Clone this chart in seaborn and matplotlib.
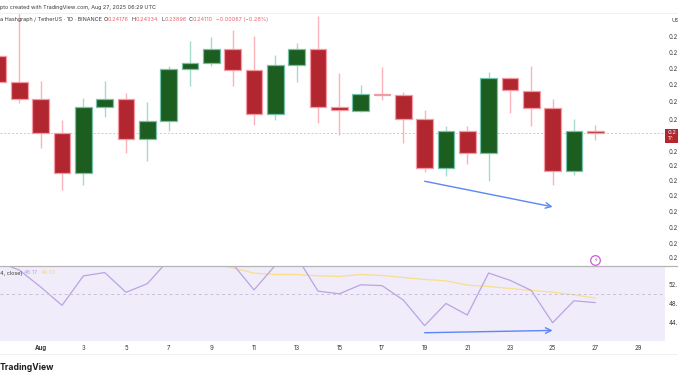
"""Hedera / USDT daily candles with RSI pane, TradingView style."""

import matplotlib.pyplot as plt
import pandas as pd
import seaborn as sns

W, H = 678, 381

# day of month: 0 is Jul 31, -1 is Jul 30
days = list(range(-1, 28))
opens = [0.26311, 0.25559, 0.25096, 0.24110, 0.22966, 0.24853, 0.25082, 0.23929, 0.24458, 0.25949,
         0.26130, 0.26521, 0.25902, 0.24663, 0.26054, 0.26521, 0.24863, 0.24749, 0.25225, 0.25206,
         0.24501, 0.23119, 0.24177, 0.23538, 0.25673, 0.25320, 0.24815, 0.23033, 0.24176]
closes = [0.25568, 0.25096, 0.24110, 0.22966, 0.24853, 0.25082, 0.23929, 0.24458, 0.25949, 0.26130,
          0.26521, 0.25902, 0.24663, 0.26054, 0.26521, 0.24863, 0.24758, 0.25215, 0.25196, 0.24510,
          0.23119, 0.24177, 0.23538, 0.25673, 0.25330, 0.24815, 0.23033, 0.24177, 0.24110]
highs = [0.26840, 0.27541, 0.25606, 0.24491, 0.25120, 0.25606, 0.25263, 0.24987, 0.26045, 0.26740,
         0.26874, 0.27064, 0.26883, 0.26359, 0.26683, 0.27455, 0.25825, 0.25492, 0.25997, 0.25273,
         0.24758, 0.24301, 0.24320, 0.25873, 0.25702, 0.26045, 0.25096, 0.24510, 0.24334]
lows = [0.25300, 0.24977, 0.23681, 0.22471, 0.22614, 0.24558, 0.23538, 0.23309, 0.24167, 0.25463,
        0.26026, 0.25454, 0.24339, 0.24472, 0.25578, 0.24396, 0.24043, 0.24710, 0.25044, 0.23834,
        0.23005, 0.22871, 0.23214, 0.22747, 0.24691, 0.24301, 0.22614, 0.22919, 0.23896]

rsi = [56.6, 54.9, 51.4, 47.6, 53.7, 54.4, 50.3, 52.1, 57.0, 62.0, 60.0, 56.2, 50.8, 55.9, 57.7,
       50.55, 50.0, 51.86, 51.7, 48.7, 43.4, 48.0, 45.6, 54.3, 52.8, 50.7, 44.0, 48.55, 48.17]
ma_days = list(range(9, 28))
rsi_ma = [56.28, 55.38, 54.28, 54.0, 54.0, 53.72, 53.59, 54.0, 53.79, 53.38, 52.97, 52.69, 51.79,
          51.52, 51.1, 50.69, 50.34, 49.79, 49.1]

price_ticks = [0.26883, 0.26426, 0.25968, 0.25492, 0.25006, 0.24501, 0.23586, 0.23167, 0.22738,
               0.22309, 0.21870, 0.21413, 0.20956, 0.20546]
rsi_ticks = [52, 48, 44]
rsi_tick_labels = ["52.", "48.", "44."]
day_ticks = [1, 3, 5, 7, 9, 11, 13, 15, 17, 19, 21, 23, 25, 27, 29]
day_labels = ["Aug", "3", "5", "7", "9", "11", "13", "15", "17", "19", "21", "23", "25", "27", "29"]

last_close = 0.24110
arrow_days = [19, 25]
price_arrow = [0.22728, 0.21994]
rsi_arrow = [41.93, 42.41]

RED, RED_EDGE, RED_WICK = "#B2272F", "#F59AA4", "#FBB4BC"
GREEN, GREEN_EDGE, GREEN_WICK = "#1B5E20", "#74C2AC", "#A6DCCD"
BLUE = "#5B86F8"
GREY = "#3A3A3A"
SMALL = 3.95


def pane(fig, left, top, right, bottom):
    return fig.add_axes([left / W, 1 - bottom / H, (right - left) / W, (bottom - top) / H])


def px_text(fig, x, y, s, **kw):
    kw.setdefault("va", "center")
    kw.setdefault("color", GREY)
    kw.setdefault("fontsize", SMALL)
    fig.text(x / W, 1 - y / H, s, **kw)


sns.set_theme(style="white")
plt.rcParams["font.family"] = ["Inter", "DejaVu Sans"]

fig = plt.figure(figsize=(W / 100, H / 100), dpi=100)
ax = pane(fig, 0, 13, 665, 265)
ax2 = pane(fig, 0, 265.5, 665, 340.7)

xlim = (-0.908, 30.27)

# candles
for d, o, c, hi, lo in zip(days, opens, closes, highs, lows):
    up = c >= o
    ax.vlines(d, lo, hi, color=GREEN_WICK if up else RED_WICK, lw=1, zorder=2)
    ax.bar(d, abs(c - o), bottom=min(o, c), width=0.78, color=GREEN if up else RED,
           edgecolor=GREEN_EDGE if up else RED_EDGE, lw=0.9, zorder=3)
ax.axhline(last_close, color="#F7B5BB", lw=0.7, ls=(0, (2, 2)), zorder=1)
ax.annotate("", xy=(arrow_days[1], price_arrow[1]), xytext=(arrow_days[0], price_arrow[0]),
            arrowprops=dict(arrowstyle="->", color=BLUE, lw=1, mutation_scale=10, shrinkA=0, shrinkB=0))
ax.scatter([27], [0.2047], s=48, facecolor="white", edgecolor="#C65FD3", lw=0.9, zorder=4, clip_on=False)
ax.text(27, 0.2047, "\u26a1", color="#C65FD3", fontsize=4.5, ha="center", va="center", zorder=5,
        family="DejaVu Sans")

ax.set_xlim(*xlim)
ax.set_ylim(0.20327, 0.27550)
ax.set_xticks([])
ax.yaxis.tick_right()
ax.set_yticks(price_ticks, ["0.2"] * len(price_ticks))
ax.tick_params(axis="y", length=0, pad=2.5, labelsize=4.4, labelcolor=GREY)
for side in ax.spines:
    ax.spines[side].set_visible(False)
ax.patch.set_alpha(0)

# rsi pane
rsi_df = pd.DataFrame({"day": days, "rsi": rsi})
ma_df = pd.DataFrame({"day": ma_days, "ma": rsi_ma})
ax2.set_facecolor("#F0ECF9")
sns.lineplot(data=ma_df, x="day", y="ma", color="#F8DF8C", lw=0.9, ax=ax2)
sns.lineplot(data=rsi_df, x="day", y="rsi", color="#B9A5E2", lw=0.9, ax=ax2)
ax2.axhline(50, color="#C9BFD8", lw=0.7, ls=(0, (3, 3)))
ax2.annotate("", xy=(arrow_days[1], rsi_arrow[1]), xytext=(arrow_days[0], rsi_arrow[0]),
             arrowprops=dict(arrowstyle="->", color=BLUE, lw=1, mutation_scale=10, shrinkA=0, shrinkB=0))
ax2.set_xlim(*xlim)
ax2.set_ylim(40.28, 55.86)
ax2.set_xlabel("")
ax2.set_ylabel("")
ax2.set_xticks(day_ticks, day_labels)
ax2.yaxis.tick_right()
ax2.set_yticks(rsi_ticks, rsi_tick_labels)
ax2.tick_params(axis="y", length=0, pad=2.5, labelsize=4.4, labelcolor=GREY)
ax2.tick_params(axis="x", length=0, pad=3, labelsize=4.4, labelcolor=GREY)
ax2.get_xticklabels()[0].set_fontweight("bold")
for side in ax2.spines:
    ax2.spines[side].set_visible(False)

# separators
fig.add_artist(plt.Line2D([0, 1], [1 - 12.5 / H] * 2, color="#F0F0F2", lw=0.7))
fig.add_artist(plt.Line2D([0, 1], [1 - 265.5 / H] * 2, color="#B5B5B8", lw=0.9))
fig.add_artist(plt.Line2D([0, 1], [1 - 353.5 / H] * 2, color="#F0F0F2", lw=0.7))

# header texts
px_text(fig, 0, 7, "pto created with TradingView.com, Aug 27, 2025 06:29 UTC")
px_text(fig, 0, 19.5, "a Hashgraph / TetherUS \u00b7 1D \u00b7 BINANCE")
for x, label, val in [(104, "O", "0.24176"), (132, "H", "0.24334"), (161, "L", "0.23896"), (189, "C", "0.24110")]:
    px_text(fig, x, 19.5, label)
    px_text(fig, x + 4, 19.5, val, color="#F0606C")
px_text(fig, 216, 19.5, "\u22120.00067 (\u22120.28%)", color="#F0606C")
px_text(fig, 671, 20, "US", fontsize=4.2)

# rsi legend
px_text(fig, 0, 273, "4, close)")
px_text(fig, 24, 273, "48.17", color="#B9A5E2")
px_text(fig, 41, 273, "49.03", color="#F5D987")

# last price tag
fig.patches.append(plt.Rectangle((665 / W, 1 - 143 / H), 13 / W, 14 / H, transform=fig.transFigure,
                                 facecolor=RED, edgecolor="none", figure=fig))
px_text(fig, 668, 132.5, "0.2", color="white", fontsize=4.2)
px_text(fig, 668, 139, "17:", color="#F6D6D9", fontsize=3.8)

px_text(fig, 0, 367, "TradingView", fontsize=6.2, fontweight="bold", color="#1E1E1E")

plt.savefig("out.png", dpi=100)
plt.close()
